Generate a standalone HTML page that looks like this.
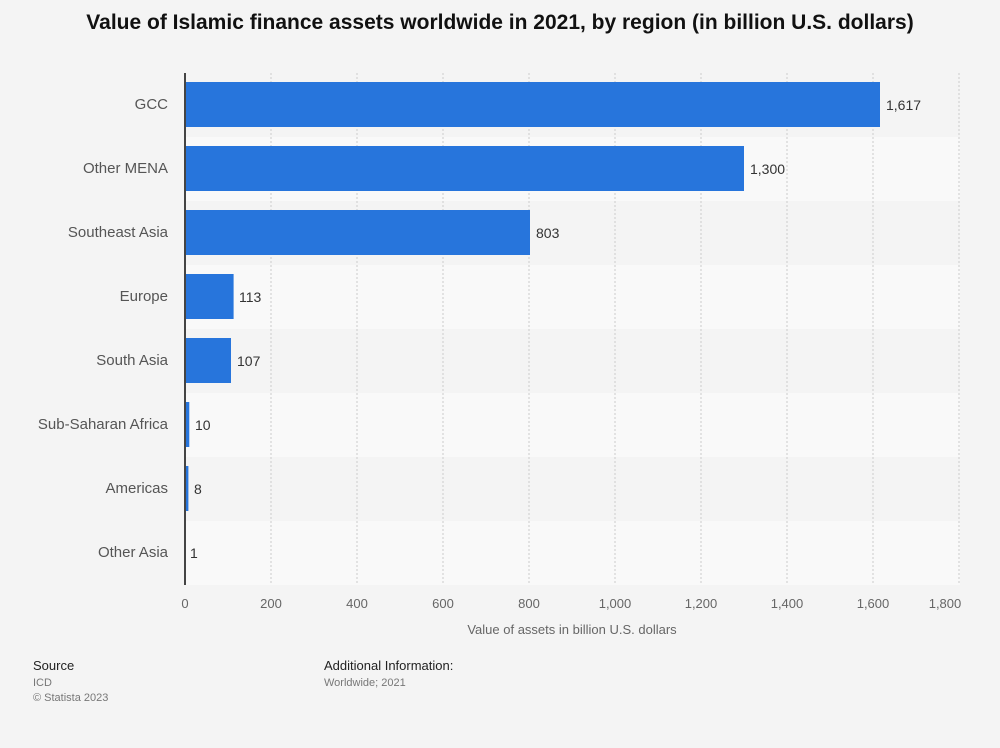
<!DOCTYPE html><html><head><style>body{margin:0;background:#f4f4f4;font-family:"Liberation Sans",sans-serif}</style></head><body>
<svg width="1000" height="743" xmlns="http://www.w3.org/2000/svg" font-family="Liberation Sans, sans-serif">
<rect width="1000" height="743" fill="#f4f4f4"/>
<text x="500" y="29" text-anchor="middle" font-size="21" font-weight="bold" fill="#111">Value of Islamic finance assets worldwide in 2021, by region (in billion U.S. dollars)</text>
<g fill="#f9f9f9"><rect x="185" y="137" width="775" height="64"/><rect x="185" y="265" width="775" height="64"/><rect x="185" y="393" width="775" height="64"/><rect x="185" y="521" width="775" height="64"/></g>
<g stroke="#ccc" stroke-dasharray="2,2"><line x1="271" y1="73" x2="271" y2="585"/><line x1="357" y1="73" x2="357" y2="585"/><line x1="443" y1="73" x2="443" y2="585"/><line x1="529" y1="73" x2="529" y2="585"/><line x1="615" y1="73" x2="615" y2="585"/><line x1="701" y1="73" x2="701" y2="585"/><line x1="787" y1="73" x2="787" y2="585"/><line x1="873" y1="73" x2="873" y2="585"/><line x1="959" y1="73" x2="959" y2="585"/></g>
<g fill="#2775dc"><rect x="185" y="82" width="695" height="45"/><rect x="185" y="146" width="559" height="45"/><rect x="185" y="210" width="345" height="45"/><rect x="185" y="274" width="48.6" height="45"/><rect x="185" y="338" width="46" height="45"/><rect x="185" y="402" width="4.3" height="45"/><rect x="185" y="466" width="3.4" height="45"/><rect x="185" y="530" width="0.5" height="45"/></g>
<line x1="185" y1="73" x2="185" y2="585" stroke="#444" stroke-width="2"/>
<g font-size="14" fill="#333"><text x="886" y="110">1,617</text><text x="750" y="174">1,300</text><text x="536" y="238">803</text><text x="239" y="302">113</text><text x="237" y="366">107</text><text x="195" y="430">10</text><text x="194" y="494">8</text><text x="190" y="558">1</text></g>
<g font-size="15" fill="#555" text-anchor="end"><text x="168" y="109">GCC</text><text x="168" y="173">Other MENA</text><text x="168" y="237">Southeast Asia</text><text x="168" y="301">Europe</text><text x="168" y="365">South Asia</text><text x="168" y="429">Sub-Saharan Africa</text><text x="168" y="493">Americas</text><text x="168" y="557">Other Asia</text></g>
<g font-size="13" fill="#666" text-anchor="middle"><text x="185" y="608">0</text><text x="271" y="608">200</text><text x="357" y="608">400</text><text x="443" y="608">600</text><text x="529" y="608">800</text><text x="615" y="608">1,000</text><text x="701" y="608">1,200</text><text x="787" y="608">1,400</text><text x="873" y="608">1,600</text><text x="945" y="608">1,800</text>
<text x="572" y="634" font-size="13">Value of assets in billion U.S. dollars</text></g>
<text x="33" y="670" font-size="13" fill="#222">Source</text>
<text x="33" y="686" font-size="11" fill="#777">ICD</text>
<text x="33" y="701" font-size="11" fill="#777">© Statista 2023</text>
<text x="324" y="670" font-size="13" fill="#222">Additional Information:</text>
<text x="324" y="686" font-size="11" fill="#777">Worldwide; 2021</text>
</svg></body></html>
